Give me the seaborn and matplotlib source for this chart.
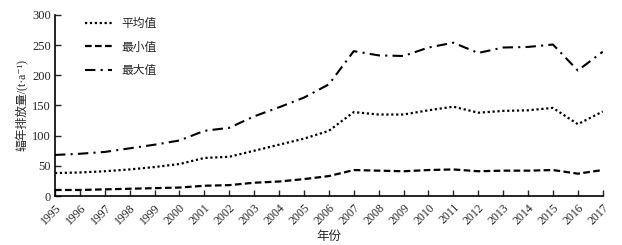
import matplotlib
matplotlib.use("Agg")
import matplotlib.pyplot as plt
import seaborn as sns
import pandas as pd

years = list(range(1995, 2018))
mean_vals = [38, 39, 41, 44, 48, 53, 63, 65, 75, 85, 95, 108, 139, 135, 135, 142, 148, 138, 141, 142, 146, 119, 140]
min_vals = [10, 10, 11, 12, 13, 14, 17, 18, 22, 24, 28, 33, 43, 42, 41, 43, 44, 41, 42, 42, 43, 37, 43]
max_vals = [68, 70, 73, 79, 85, 92, 108, 113, 132, 147, 163, 185, 240, 233, 232, 246, 254, 237, 246, 247, 251, 208, 239]
series_names = ["平均值", "最小值", "最大值"]

sns.set_style("ticks")
plt.rcParams['font.family'] = ['Liberation Serif', 'Noto Sans CJK SC', 'DejaVu Sans']
plt.rcParams['axes.unicode_minus'] = False

df = pd.DataFrame({"year": years, "平均值": mean_vals, "最小值": min_vals, "最大值": max_vals})

fig = plt.figure(figsize=(6.22, 2.45), dpi=100)
ax = fig.add_axes([0.0884, 0.2, 0.8806, 0.739])

styles = {
    "平均值": dict(linestyle=(0, (1, 1.2)), linewidth=1.6),
    "最小值": dict(linestyle=(0, (3, 1.5)), linewidth=1.6),
    "最大值": dict(linestyle=(0, (5, 2.5, 1, 2.5)), linewidth=1.5),
}
for name in series_names:
    sns.lineplot(data=df, x="year", y=name, ax=ax, color="black", label=name, **styles[name])

ax.set_xlim(1995, 2017)
ax.set_ylim(0, 300)
ax.set_xticks(years)
ax.set_xticklabels([str(y) for y in years], rotation=45, ha="right", rotation_mode="anchor", fontsize=8.5)
ax.set_yticks([0, 50, 100, 150, 200, 250, 300])
ax.tick_params(axis="y", labelsize=9, direction="in", length=4, width=1, pad=3)
ax.tick_params(axis="x", direction="in", length=4, width=1, pad=4)
for s in ["top", "right"]:
    ax.spines[s].set_visible(False)
for s in ["left", "bottom"]:
    ax.spines[s].set_linewidth(1.2)
    ax.spines[s].set_color("black")

ax.set_xlabel("年份", fontsize=9, labelpad=3)
ax.set_ylabel("辐年排放量/(t·a⁻¹)", fontsize=8.5, labelpad=2)

leg = ax.legend(loc="upper left", bbox_to_anchor=(0.035, 1.04), frameon=False, fontsize=8.5,
                handlelength=2.3, labelspacing=0.95, handletextpad=0.8)

fig.savefig("out.png", dpi=100)
